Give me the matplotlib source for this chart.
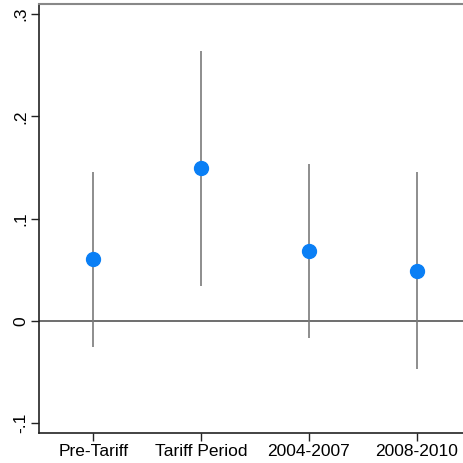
import matplotlib
matplotlib.use('Agg')
import matplotlib.pyplot as plt

# point estimates and confidence bounds
periods = ['Pre-Tariff', 'Tariff Period', '2004-2007', '2008-2010']
estimates = [0.0604, 0.1494, 0.0685, 0.0489]
lower = [-0.0251, 0.0342, -0.0170, -0.0473]
upper = [0.1455, 0.2645, 0.1536, 0.1455]
y_ticks = [-0.1, 0, 0.1, 0.2, 0.3]
y_tick_labels = ['-.1', '0', '.1', '.2', '.3']

plt.rcParams['font.family'] = ['Liberation Sans', 'DejaVu Sans']

fig = plt.figure(figsize=(4.63, 4.63), dpi=100)
W, H = 463, 463
ax = fig.add_axes([39.4 / W, 30 / H, 431.2 / W, 429 / H])

x = list(range(1, len(periods) + 1))
ax.vlines(x, lower, upper, color='#7a7a7a', linewidth=1.2, zorder=2)
ax.plot(x, estimates, 'o', color='#0a7ff5', markersize=10, zorder=3)
ax.axhline(0, color='#555555', linewidth=1.2, zorder=1)

ax.set_xlim(0.5, 4.5)
ax.set_ylim(-0.1096, 0.310)
ax.set_xticks(x)
ax.set_xticklabels(periods, fontsize=12.5)
ax.set_yticks(y_ticks)
ax.set_yticklabels(y_tick_labels, fontsize=12.5, rotation=90, va='center')
ax.tick_params(axis='x', length=6, width=1, color='#222222', pad=2)
ax.tick_params(axis='y', length=6, width=1, color='#222222', pad=2)

ax.spines['left'].set_color('#222222')
ax.spines['bottom'].set_color('#222222')
ax.spines['left'].set_linewidth(1.2)
ax.spines['bottom'].set_linewidth(1.2)
ax.spines['top'].set_color('#888888')
ax.spines['top'].set_linewidth(1.5)
ax.spines['right'].set_visible(False)

fig.savefig('out.png', dpi=100)
